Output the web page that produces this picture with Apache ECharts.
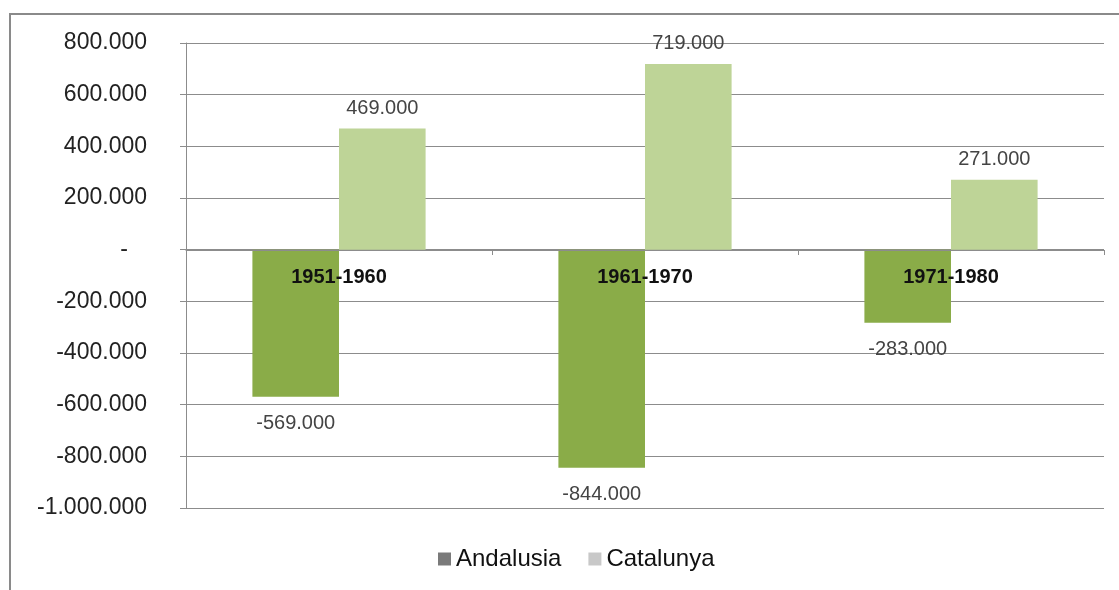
<!DOCTYPE html>
<html>
<head>
<meta charset="utf-8">
<script src="https://cdn.jsdelivr.net/npm/echarts@6/dist/echarts.min.js"></script>
<style>html,body{margin:0;padding:0;background:#fff}#c{width:1119px;height:590px}</style>
</head>
<body>
<div id="c"></div>
<script>
const categories = ['1951-1960', '1961-1970', '1971-1980'];
const andalusia = [-569000, -844000, -283000];
const catalunya = [469000, 719000, 271000];
const seriesNames = ['Andalusia', 'Catalunya'];

function fmt(v) {
  const s = Math.abs(v).toString().replace(/\B(?=(\d{3})+(?!\d))/g, '.');
  return (v < 0 ? '-' : '') + s;
}
function axisFmt(v) {
  return v === 0 ? '-   ' : fmt(v);
}

const chart = echarts.init(document.getElementById('c'));
const font = 'Liberation Sans, Arial, sans-serif';
chart.setOption({
  animation: false,
  backgroundColor: '#fff',
  textStyle: { fontFamily: font },
  graphic: [{
    type: 'polyline',
    shape: { points: [[10, 590], [10, 14], [1119, 14]] },
    style: { stroke: '#8a8a8a', lineWidth: 2, fill: null },
    silent: true
  }],
  grid: { left: 186, right: 15, top: 43, bottom: 82 },
  legend: {
    left: 433, top: 542,
    itemWidth: 13, itemHeight: 13, itemGap: 27,
    textStyle: { fontSize: 24, color: '#111', fontFamily: font },
    data: [
      { name: seriesNames[0], icon: 'rect', itemStyle: { color: '#7a7a7a' } },
      { name: seriesNames[1], icon: 'rect', itemStyle: { color: '#c8c8c8' } }
    ]
  },
  xAxis: {
    type: 'category',
    data: categories,
    z: 10,
    offset: -258,
    axisLine: { onZero: false, lineStyle: { color: '#8c8c8c', width: 1 } },
    axisTick: { show: true, length: 5, alignWithLabel: false, lineStyle: { color: '#8c8c8c' } },
    axisLabel: { fontSize: 20, fontWeight: 'bold', color: '#111', margin: 17, fontFamily: font },
    splitLine: { show: false }
  },
  yAxis: {
    type: 'value',
    min: -1000000, max: 800000, interval: 200000,
    axisLine: { show: true, lineStyle: { color: '#8c8c8c', width: 1 } },
    axisTick: { show: true, length: 6, lineStyle: { color: '#8c8c8c' } },
    axisLabel: { fontSize: 23, color: '#222', margin: 39, formatter: axisFmt, fontFamily: font },
    splitLine: { show: true, lineStyle: { color: '#8c8c8c', width: 1 } }
  },
  series: [
    {
      name: seriesNames[0], type: 'bar', data: andalusia,
      barWidth: '28.3%', barGap: '0%',
      itemStyle: { color: '#8aac48' },
      label: { show: true, position: 'bottom', distance: 17, fontSize: 20, color: '#444',
               formatter: p => fmt(p.value), fontFamily: font }
    },
    {
      name: seriesNames[1], type: 'bar', data: catalunya,
      barWidth: '28.3%', barGap: '0%',
      itemStyle: { color: '#bed497' },
      label: { show: true, position: 'top', distance: 10, fontSize: 20, color: '#444',
               formatter: p => fmt(p.value), fontFamily: font }
    }
  ]
});
</script>
</body>
</html>
